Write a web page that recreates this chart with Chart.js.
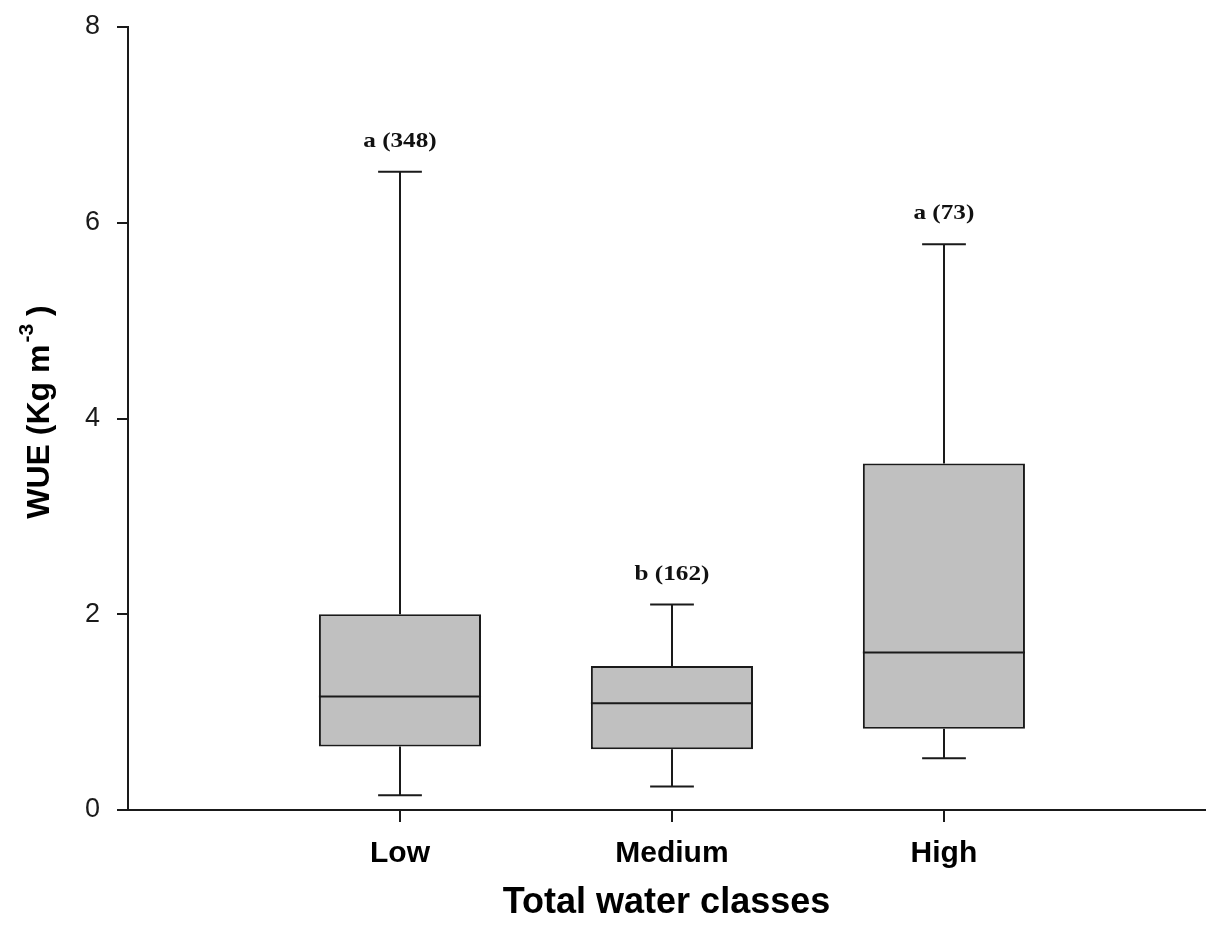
<!DOCTYPE html>
<html>
<head>
<meta charset="utf-8">
<script src="https://cdn.jsdelivr.net/npm/chart.js@4/dist/chart.umd.min.js"></script>
<style>
  html, body { margin: 0; padding: 0; background: #fff; }
  #wrap { width: 1208px; height: 935px; position: relative; }
</style>
</head>
<body>
<div id="wrap"><canvas id="c"></canvas></div>
<script>
// Box-plot summary of WUE per total water class
const categories  = ['Low', 'Medium', 'High'];
const whiskerLow  = [0.15, 0.24, 0.53];
const quartile1   = [0.65, 0.62, 0.83];
const medians     = [1.16, 1.09, 1.61];
const quartile3   = [2.00, 1.47, 3.54];
const whiskerHigh = [6.52, 2.10, 5.78];
const groupLetters = ['a', 'b', 'a'];
const groupCounts  = [348, 162, 73];
const yTicks = [0, 2, 4, 6, 8];

const INK = '#1a1a1a';
const SANS = '"Liberation Sans", Arial, sans-serif';
const SERIF = '"Liberation Serif", "Times New Roman", serif';

// Whiskers, caps and median lines drawn on top of the floating boxes
const whiskerPlugin = {
  id: 'whiskers',
  afterDatasetsDraw(chart) {
    const meta = chart.getDatasetMeta(0);
    const ys = chart.scales.y;
    const ctx = chart.ctx;
    ctx.save();
    ctx.strokeStyle = INK;
    ctx.lineWidth = 2;
    meta.data.forEach((bar, i) => {
      const x = Math.round(bar.x);
      const half = bar.width / 2;
      const cap = bar.width * 0.135;
      const yMax = ys.getPixelForValue(whiskerHigh[i]);
      const yMin = ys.getPixelForValue(whiskerLow[i]);
      const yQ1 = ys.getPixelForValue(quartile1[i]);
      const yQ3 = ys.getPixelForValue(quartile3[i]);
      const yMed = ys.getPixelForValue(medians[i]);
      ctx.beginPath();
      ctx.moveTo(x, yQ3); ctx.lineTo(x, yMax);
      ctx.moveTo(x - cap, yMax); ctx.lineTo(x + cap, yMax);
      ctx.moveTo(x, yQ1); ctx.lineTo(x, yMin);
      ctx.moveTo(x - cap, yMin); ctx.lineTo(x + cap, yMin);
      ctx.moveTo(bar.x - half, yMed); ctx.lineTo(bar.x + half, yMed);
      ctx.stroke();
    });
    ctx.restore();
  }
};

// Significance letter and sample size above each upper whisker
const groupLabelPlugin = {
  id: 'groupLabels',
  afterDraw(chart) {
    const ctx = chart.ctx;
    const xs = chart.scales.x, ys = chart.scales.y;
    ctx.save();
    ctx.font = 'bold 21px ' + SERIF;
    ctx.fillStyle = '#111';
    ctx.textAlign = 'center';
    ctx.textBaseline = 'middle';
    categories.forEach((c, i) => {
      const x = xs.getPixelForValue(i + 1);
      const y = ys.getPixelForValue(whiskerHigh[i] + 0.31);
      ctx.save();
      ctx.translate(x, y);
      ctx.scale(1.2, 1);
      ctx.fillText(groupLetters[i] + ' (' + groupCounts[i] + ')', 0, 0);
      ctx.restore();
    });
    ctx.restore();
  }
};

// Rotated y-axis title with a superscript unit exponent
const yTitlePlugin = {
  id: 'yTitle',
  afterDraw(chart) {
    const ctx = chart.ctx;
    const big = 'bold 32px ' + SANS;
    const small = 'bold 21px ' + SANS;
    const p1 = 'WUE (Kg m', p2 = '-3', p3 = ')';
    ctx.save();
    ctx.translate(40, 412);
    ctx.rotate(-Math.PI / 2);
    ctx.fillStyle = '#000';
    ctx.textBaseline = 'middle';
    ctx.textAlign = 'left';
    ctx.font = big;
    const w1 = ctx.measureText(p1).width;
    const w3 = ctx.measureText(p3).width;
    ctx.font = small;
    const w2 = ctx.measureText(p2).width;
    const gap1 = 2, gap2 = 8;
    let x = -(w1 + w2 + w3 + gap1 + gap2) / 2;
    ctx.font = big;
    ctx.fillText(p1, x, 0);
    x += w1 + gap1;
    ctx.font = small;
    ctx.fillText(p2, x, -13);
    x += w2 + gap2;
    ctx.font = big;
    ctx.fillText(p3, x, 0);
    ctx.restore();
  }
};

const boxData = categories.map((c, i) => ({ x: i + 1, y: [quartile1[i], quartile3[i]] }));

new Chart(document.getElementById('c'), {
  type: 'bar',
  data: {
    datasets: [{
      data: boxData,
      backgroundColor: '#c0c0c0',
      borderColor: INK,
      borderWidth: 2,
      borderSkipped: false,
      categoryPercentage: 1,
      barPercentage: 0.596
    }]
  },
  options: {
    responsive: true,
    maintainAspectRatio: false,
    animation: false,
    layout: { padding: { left: 0, top: 27, right: 3, bottom: 0 } },
    plugins: { legend: { display: false }, tooltip: { enabled: false } },
    scales: {
      x: {
        type: 'linear',
        min: 0,
        max: 3.96,
        offset: false,
        grid: { display: true, drawOnChartArea: false, drawTicks: true, tickLength: 12, color: INK, lineWidth: 2, offset: false },
        border: { display: true, color: INK, width: 2 },
        afterBuildTicks: s => { s.ticks = categories.map((c, i) => ({ value: i + 1 })); },
        ticks: {
          autoSkip: false, maxRotation: 0, padding: 14, color: '#000',
          font: { family: SANS, size: 30, weight: 'bold' },
          callback: v => categories[v - 1]
        },
        title: {
          display: true, text: 'Total water classes', color: '#000',
          font: { family: SANS, size: 36, weight: 'bold' },
          padding: { top: 0, bottom: 10 }
        },
        afterFit: s => { s.height = 125; }
      },
      y: {
        min: 0,
        max: 8,
        afterBuildTicks: s => { s.ticks = yTicks.map(v => ({ value: v })); },
        grid: { display: true, drawOnChartArea: false, drawTicks: true, tickLength: 11, color: INK, lineWidth: 2 },
        border: { display: true, color: INK, width: 2 },
        ticks: { padding: 17, color: INK, font: { family: SANS, size: 27, lineHeight: 0.5 } },
        afterFit: s => { s.width = 128; }
      }
    }
  },
  plugins: [whiskerPlugin, groupLabelPlugin, yTitlePlugin]
});
</script>
</body>
</html>
